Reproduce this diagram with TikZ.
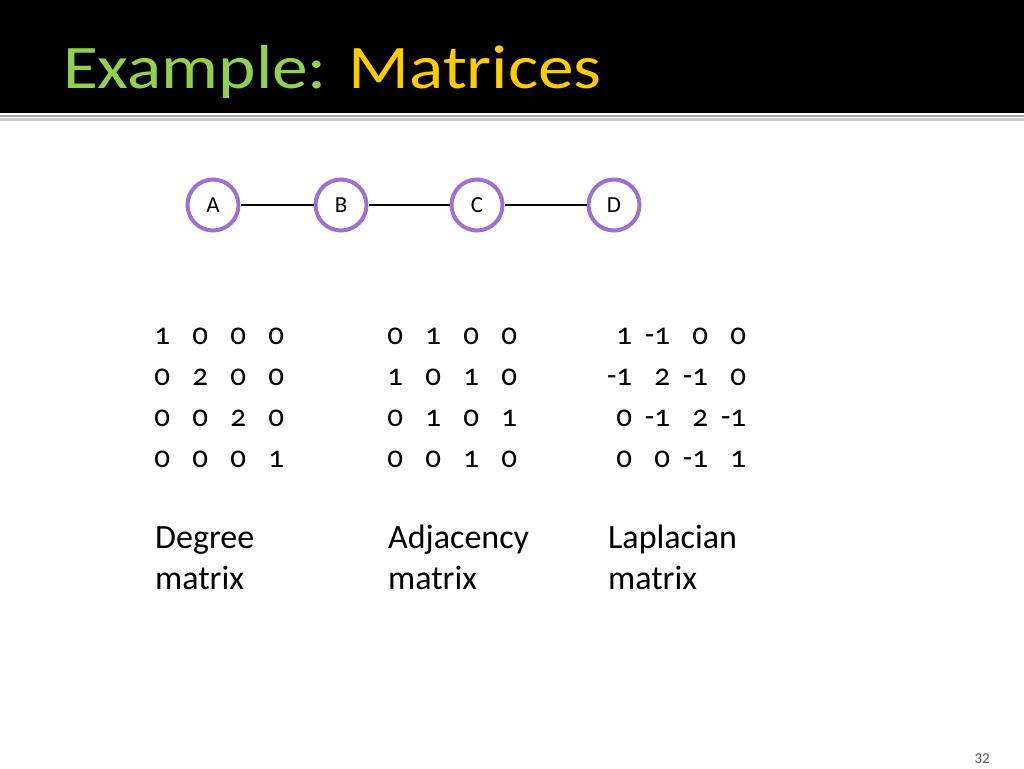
\documentclass[tikz,border=0pt]{standalone}
\usepackage{fontspec}
\setmainfont{Carlito}[Numbers=OldStyle]
\usepackage{tikz}

\definecolor{titlegreen}{RGB}{146,208,80}
\definecolor{titleyellow}{RGB}{255,204,0}
\definecolor{nodepurple}{RGB}{160,112,208}
\definecolor{pagegray}{RGB}{89,89,89}

% one matrix row: four right aligned entries
\newcommand{\mrow}[4]{\makebox[38pt][r]{#1}\makebox[38pt][r]{#2}\makebox[38pt][r]{#3}\makebox[38pt][r]{#4}}

\begin{document}
\begin{tikzpicture}[x=1pt,y=-1pt, inner sep=0pt, >=stealth]
\useasboundingbox (0,0) rectangle (1024,768);
\fill[white] (0,0) rectangle (1024,768);
\fill[black] (0,0) rectangle (1024,113);
\draw[line width=2pt, black!35] (0,116) -- (1024,116);
\draw[line width=2.5pt, black!20] (0,119.5) -- (1024,119.5);
\node (title) at (63,88) [anchor=base west, font=\fontsize{62}{70}\selectfont] {\scalebox{1.15}[1]{\textcolor{titlegreen}{Example:} \textcolor{titleyellow}{Matrices}}};

% the path graph
\tikzset{vert/.style={circle, minimum size=51pt, line width=4pt, draw=nodepurple, fill=white, font=\fontsize{23}{25}\selectfont}}
\node (A) at (213,205) [vert] {A};
\node (B) at (341,205) [vert] {B};
\node (C) at (477,205) [vert] {C};
\node (D) at (614,205) [vert] {D};
\draw[-, line width=2.5pt] (A) -- (B);
\draw[-, line width=2.5pt] (B) -- (C);
\draw[-, line width=2.5pt] (C) -- (D);

% matrices
\tikzset{mat/.style={anchor=base west, font=\fontsize{31}{36}\selectfont}}
\node (deg1) at (132,344) [mat] {\mrow{1}{0}{0}{0}};
\node (deg2) at (132,385) [mat] {\mrow{0}{2}{0}{0}};
\node (deg3) at (132,426) [mat] {\mrow{0}{0}{2}{0}};
\node (deg4) at (132,467) [mat] {\mrow{0}{0}{0}{1}};
\node (adj1) at (365,344) [mat] {\mrow{0}{1}{0}{0}};
\node (adj2) at (365,385) [mat] {\mrow{1}{0}{1}{0}};
\node (adj3) at (365,426) [mat] {\mrow{0}{1}{0}{1}};
\node (adj4) at (365,467) [mat] {\mrow{0}{0}{1}{0}};
\node (lap1) at (594,344) [mat] {\mrow{1}{-1}{0}{0}};
\node (lap2) at (594,385) [mat] {\mrow{-1}{2}{-1}{0}};
\node (lap3) at (594,426) [mat] {\mrow{0}{-1}{2}{-1}};
\node (lap4) at (594,467) [mat] {\mrow{0}{0}{-1}{1}};

% captions
\tikzset{captext/.style={anchor=base west, font=\fontsize{34}{40}\selectfont}}
\node (degname) at (155,548) [captext] {Degree};
\node (degmat) at (155,589) [captext] {matrix};
\node (adjname) at (388,548) [captext] {Adjacency};
\node (adjmat) at (388,589) [captext] {matrix};
\node (lapname) at (608,548) [captext] {Laplacian};
\node (lapmat) at (608,589) [captext] {matrix};

\node (page) at (990,763) [anchor=base east, text=pagegray, font=\fontsize{15}{18}\selectfont\addfontfeature{Numbers=Lining}] {32};
\end{tikzpicture}
\end{document}
